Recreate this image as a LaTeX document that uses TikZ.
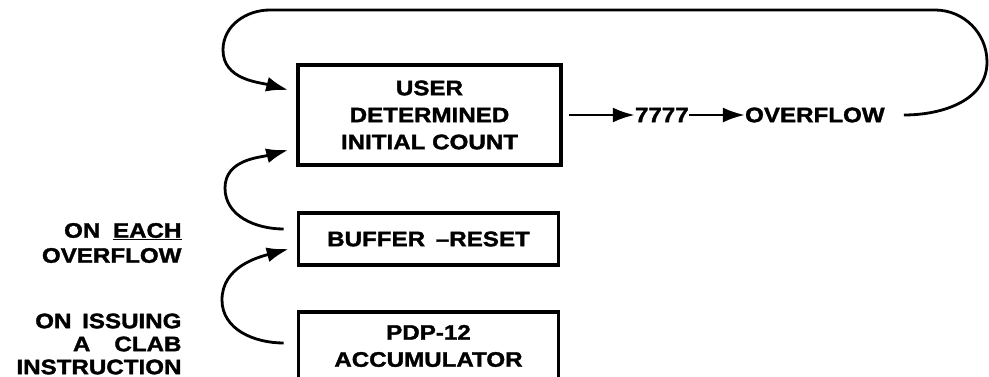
\documentclass[tikz,border=0pt]{standalone}
\usepackage{fontspec}
\setmainfont{Liberation Sans}[FakeStretch=1.15, BoldFeatures={FakeBold=1.6}]
\usetikzlibrary{arrows.meta,positioning,calc}

\tikzset{
  unitbox/.style={draw, line width=3.6pt, align=center, inner sep=0pt},
  flowline/.style={line width=2.8pt, -{Latex[length=22pt,width=15pt]}},
  loopline/.style={line width=2.8pt, -{Latex[length=22pt,width=15pt]}},
  plainlabel/.style={inner sep=0pt, align=center},
}

\begin{document}
\begin{tikzpicture}[x=1pt,y=1pt,font=\bfseries\fontsize{21}{27}\selectfont]
  \useasboundingbox (0,0) rectangle (989,-377);

  % the three registers
  \node[unitbox, minimum width=263pt, minimum height=100pt] (init) at (429.5,-115)
    {USER\\DETERMINED\\INITIAL COUNT};
  \node[unitbox, minimum width=260pt, minimum height=52pt] (reset) at (428.5,-239)
    {BUFFER\hspace{4pt} --RESET};
  \node[unitbox, minimum width=260pt, minimum height=68pt] (acc) at (428.5,-346)
    {PDP-12\\ACCUMULATOR};

  % counting up to overflow
  \node[plainlabel, right=72pt of init] (count) {7777};
  \node[plainlabel, right=56pt of count] (ovf) {OVERFLOW};
  \draw[flowline] ([xshift=6pt]init.east) -- (count);
  \draw[flowline] (count) -- (ovf);

  % reload on overflow
  \draw[loopline]
    ([xshift=19pt]ovf.east) to[out=0,in=-90] (987,-62)
    to[out=90,in=0] (935,-10) -- (270,-10)
    to[out=180,in=90] (223,-50)
    to[out=-90,in=165] ([shift={(-8pt,25pt)}]init.west);
  \draw[loopline]
    ([shift={(-13pt,10pt)}]reset.west) to[out=180,in=-90] (225,-188)
    to[out=90,in=195] ([shift={(-8pt,-35pt)}]init.west);
  \draw[loopline]
    ([shift={(-13pt,3pt)}]acc.west) to[out=180,in=-90] (222,-300)
    to[out=90,in=195] ([shift={(-8pt,-10pt)}]reset.west);

  % conditions
  \node[plainlabel, align=right, font=\bfseries\fontsize{21}{25}\selectfont,
    left=115pt of reset, yshift=-4pt] (eachlbl) {ON\hspace{6pt} \underline{EACH}\\OVERFLOW};
  \node[plainlabel, align=right, font=\bfseries\fontsize{21}{23}\selectfont,
    left=115pt of acc, yshift=2pt] (clablbl) {ON\hspace{4pt} ISSUING\\A\hspace{24pt}CLAB\\INSTRUCTION};
\end{tikzpicture}
\end{document}
